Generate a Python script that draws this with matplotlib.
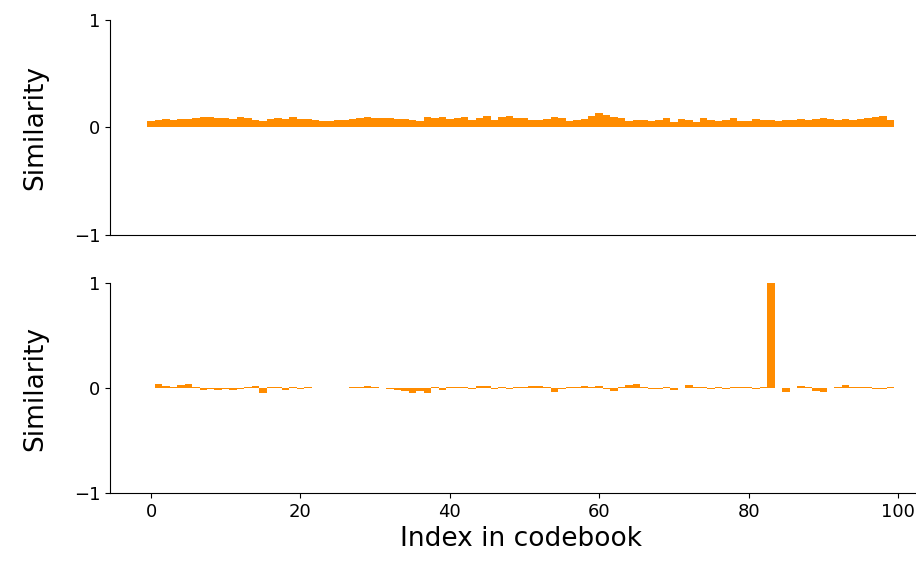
import matplotlib
matplotlib.use('Agg')
import matplotlib.pyplot as plt
import numpy as np

idx = np.arange(100)

# similarity of a random query to every codebook entry
sim_random = [0.06, 0.07, 0.08, 0.07, 0.08, 0.08, 0.09, 0.10, 0.10, 0.09,
              0.09, 0.08, 0.10, 0.09, 0.07, 0.06, 0.08, 0.09, 0.08, 0.10,
              0.08, 0.08, 0.07, 0.06, 0.06, 0.07, 0.07, 0.08, 0.09, 0.10,
              0.09, 0.09, 0.09, 0.08, 0.08, 0.07, 0.06, 0.10, 0.09, 0.10,
              0.08, 0.09, 0.10, 0.07, 0.09, 0.11, 0.07, 0.10, 0.11, 0.09,
              0.09, 0.07, 0.07, 0.08, 0.10, 0.09, 0.06, 0.07, 0.08, 0.11,
              0.13, 0.12, 0.10, 0.09, 0.06, 0.07, 0.07, 0.06, 0.07, 0.09,
              0.05, 0.08, 0.07, 0.05, 0.09, 0.07, 0.06, 0.07, 0.09, 0.06,
              0.06, 0.08, 0.07, 0.07, 0.06, 0.07, 0.07, 0.08, 0.07, 0.08,
              0.09, 0.08, 0.07, 0.08, 0.07, 0.08, 0.09, 0.10, 0.11, 0.07]

# similarity of a codebook entry (83) to every codebook entry
sim_item = [0.00, 0.04, 0.02, 0.01, 0.03, 0.04, 0.01, -0.02, -0.01, -0.02,
            -0.01, -0.02, -0.01, 0.01, 0.02, -0.05, 0.01, 0.01, -0.02, 0.01,
            -0.01, 0.01, 0.00, 0.00, 0.00, 0.00, 0.00, 0.01, 0.01, 0.02,
            0.01, 0.00, -0.01, -0.02, -0.03, -0.05, -0.03, -0.05, 0.01, -0.02,
            0.01, 0.01, 0.01, -0.01, 0.02, 0.02, -0.01, 0.01, -0.01, 0.01,
            0.01, 0.02, 0.02, 0.01, -0.04, -0.01, 0.01, 0.01, 0.02, 0.01,
            0.02, -0.01, -0.03, 0.01, 0.03, 0.04, 0.01, -0.01, -0.01, 0.01,
            -0.02, 0.00, 0.03, 0.01, 0.01, -0.01, 0.01, -0.01, 0.01, 0.01,
            0.01, -0.01, 0.01, 1.00, 0.00, -0.04, 0.00, 0.02, 0.01, -0.03,
            -0.04, 0.00, 0.01, 0.03, 0.01, 0.01, 0.01, -0.01, -0.01, 0.01]

color = '#FF8C00'

fig = plt.figure(figsize=(9.16, 5.7), dpi=100)
ax1 = fig.add_axes([0.120, 0.588, 0.897, 0.377])
ax2 = fig.add_axes([0.120, 0.135, 0.897, 0.368])

for ax, vals in zip([ax1, ax2], [sim_random, sim_item]):
    ax.bar(idx, vals, width=1.0, color=color)
    ax.set_ylim(-1, 1)
    ax.set_yticks([-1, 0, 1])
    ax.set_xlim(-5.5, 104.5)
    ax.set_ylabel('Similarity', fontsize=19, labelpad=18)
    ax.tick_params(labelsize=13)
    ax.spines['top'].set_visible(False)
    ax.spines['right'].set_visible(False)

ax1.tick_params(axis='x', bottom=False, labelbottom=False)
ax2.set_xticks([0, 20, 40, 60, 80, 100])
ax2.set_xlabel('Index in codebook', fontsize=19)

fig.savefig('out.png', dpi=100)
